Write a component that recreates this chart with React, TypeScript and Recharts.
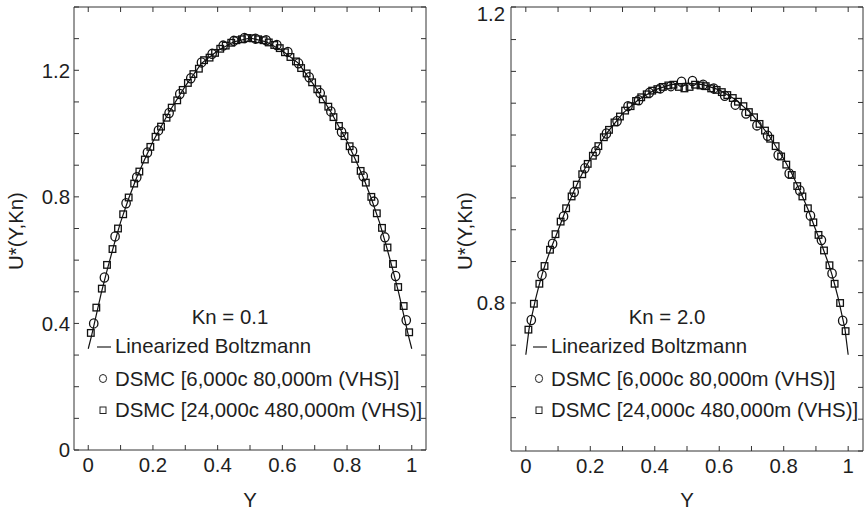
import React from 'react';
import { ScatterChart, Scatter, XAxis, YAxis } from 'recharts';

const FONT = '"Liberation Sans", Arial, Helvetica, sans-serif';
const INK = '#1e1e1e';

// ---------- data ----------
const LINE_Y = [0, 0.01, 0.02, 0.03, 0.04, 0.05, 0.06, 0.08, 0.1, 0.125, 0.15, 0.175, 0.2, 0.25, 0.3, 0.35, 0.4, 0.45, 0.5,
  0.55, 0.6, 0.65, 0.7, 0.75, 0.8, 0.825, 0.85, 0.875, 0.9, 0.92, 0.94, 0.95, 0.96, 0.97, 0.98, 0.99, 1];

const LINE_KN01 = [0.32, 0.36, 0.405, 0.45, 0.495, 0.535, 0.575, 0.65, 0.72, 0.795, 0.862, 0.92, 0.975, 1.068, 1.15, 1.222, 1.262, 1.29, 1.302,
  1.29, 1.262, 1.222, 1.15, 1.068, 0.975, 0.92, 0.862, 0.795, 0.72, 0.65, 0.575, 0.535, 0.495, 0.45, 0.405, 0.36, 0.32];

const LINE_KN20 = [0.73, 0.765, 0.785, 0.805, 0.822, 0.838, 0.852, 0.876, 0.898, 0.927, 0.952, 0.975, 0.995, 1.029, 1.056, 1.075, 1.088, 1.095, 1.097,
  1.095, 1.088, 1.075, 1.056, 1.029, 0.995, 0.975, 0.952, 0.927, 0.898, 0.876, 0.852, 0.838, 0.822, 0.805, 0.785, 0.765, 0.73];

const CIRCLE_Y = [0.017, 0.05, 0.083, 0.117, 0.15, 0.183, 0.217, 0.25, 0.283, 0.317, 0.35, 0.383, 0.417, 0.45, 0.483,
  0.517, 0.55, 0.583, 0.617, 0.65, 0.683, 0.717, 0.75, 0.783, 0.817, 0.85, 0.883, 0.917, 0.95, 0.983];

const CIRCLE_KN01 = [0.40, 0.545, 0.675, 0.78, 0.862, 0.94, 1.01, 1.065, 1.125, 1.175, 1.225, 1.252, 1.278, 1.293, 1.302,
  1.300, 1.295, 1.280, 1.258, 1.222, 1.178, 1.128, 1.07, 1.005, 0.945, 0.865, 0.785, 0.672, 0.55, 0.41];

const CIRCLE_KN20 = [0.777, 0.838, 0.880, 0.917, 0.950, 0.982, 1.005, 1.029, 1.046, 1.066, 1.074, 1.084, 1.090, 1.093, 1.099,
  1.100, 1.095, 1.090, 1.080, 1.068, 1.056, 1.040, 1.026, 1.000, 0.975, 0.952, 0.918, 0.885, 0.840, 0.776];

const SQUARE_Y = [0.008, 0.025, 0.042, 0.058, 0.075, 0.092, 0.108, 0.125, 0.142, 0.158, 0.175, 0.192, 0.208, 0.225, 0.242,
  0.258, 0.275, 0.292, 0.308, 0.325, 0.342, 0.358, 0.375, 0.392, 0.408, 0.425, 0.442, 0.458, 0.475, 0.492,
  0.508, 0.525, 0.542, 0.558, 0.575, 0.592, 0.608, 0.625, 0.642, 0.658, 0.675, 0.692, 0.708, 0.725, 0.742,
  0.758, 0.775, 0.792, 0.808, 0.825, 0.842, 0.858, 0.875, 0.892, 0.908, 0.925, 0.942, 0.958, 0.975, 0.992];

const SQUARE_KN01 = [0.37, 0.45, 0.51, 0.585, 0.635, 0.70, 0.745, 0.798, 0.842, 0.88, 0.918, 0.958, 0.99, 1.022, 1.05,
  1.082, 1.105, 1.138, 1.16, 1.188, 1.205, 1.232, 1.24, 1.255, 1.268, 1.278, 1.287, 1.295, 1.298, 1.302,
  1.301, 1.298, 1.295, 1.288, 1.280, 1.27, 1.257, 1.242, 1.228, 1.207, 1.19, 1.162, 1.14, 1.108, 1.085,
  1.052, 1.024, 0.992, 0.96, 0.92, 0.882, 0.845, 0.80, 0.748, 0.702, 0.64, 0.588, 0.515, 0.455, 0.372];

const SQUARE_KN20 = [0.764, 0.799, 0.826, 0.850, 0.872, 0.893, 0.910, 0.928, 0.944, 0.960, 0.974, 0.988, 0.999, 1.012, 1.024,
  1.034, 1.044, 1.052, 1.060, 1.066, 1.073, 1.078, 1.082, 1.087, 1.089, 1.092, 1.094, 1.095, 1.092, 1.090,
  1.092, 1.095, 1.094, 1.093, 1.090, 1.088, 1.085, 1.081, 1.077, 1.072, 1.066, 1.058, 1.051, 1.042, 1.033,
  1.022, 1.012, 0.998, 0.987, 0.973, 0.958, 0.944, 0.928, 0.909, 0.892, 0.871, 0.851, 0.826, 0.800, 0.762];

const X_TICKS = [0, 0.1, 0.2, 0.3, 0.4, 0.5, 0.6, 0.7, 0.8, 0.9, 1];
const X_LABELS = [0, 0.2, 0.4, 0.6, 0.8, 1];

const Y_TICKS_KN01 = [0, 0.1, 0.2, 0.3, 0.4, 0.5, 0.6, 0.7, 0.8, 0.9, 1.0, 1.1, 1.2, 1.3, 1.4];
const Y_LABELS_KN01 = [0, 0.4, 0.8, 1.2];

const Y_TICKS_KN20_LEFT = [0.645, 0.687, 0.743, 0.8, 0.856, 0.899, 0.942, 0.985, 1.027, 1.07, 1.113, 1.156, 1.2];
const Y_TICKS_KN20_RIGHT = [0.6, 0.643, 0.686, 0.729, 0.771, 0.814, 0.857, 0.9, 0.943, 0.986, 1.029, 1.071, 1.114, 1.157, 1.2];
const Y_LABELS_KN20 = [0.8, 1.2];

const KN_TITLES = ['Kn = 0.1', 'Kn = 2.0'];
const LEGEND_NAMES = ['Linearized Boltzmann', 'DSMC [6,000c 80,000m (VHS)]', 'DSMC [24,000c 480,000m (VHS)]'];
const X_TITLE = 'Y';
const Y_TITLE = 'U*(Y,Kn)';

// ---------- helpers ----------
const FS = 20.4;
const fmt = (v: number) => (Math.abs(v) < 1e-9 ? '0' : Math.abs(v - 1) < 1e-9 ? '1' : v.toFixed(1));
const has = (arr: number[], v: number) => arr.some((a) => Math.abs(a - v) < 1e-6);

const Circ = (p: any) => (
  <ellipse cx={p.cx} cy={p.cy} rx={4.2} ry={4.6} fill="none" stroke="#111" strokeWidth={1.3} />
);
const Sq = (p: any) => (
  <rect x={p.cx - 3.3} y={p.cy - 3.3} width={6.6} height={6.6} fill="none" stroke="#111" strokeWidth={1.3} />
);
const Nothing = () => <g />;

const makeYTick = (labels: number[]) => (p: any) => {
  const v = p.payload.value;
  if (!has(labels, v)) return <g />;
  const y = Math.max(p.y, 13.5);
  return (
    <text x={p.x} y={y} dy="0.36em" textAnchor="end" fontSize={FS} fontFamily={FONT} fill={INK}>
      {fmt(v)}
    </text>
  );
};

const axisStroke = { stroke: '#333', strokeWidth: 1 };

type Cfg = {
  left: number;
  margin: { top: number; right: number; bottom: number; left: number };
  xDomain: [number, number];
  yDomain: [number, number];
  yTicksL: number[];
  yTicksR: number[];
  yLabels: number[];
  yTickMargin: number;
  line: number[];
  circles: number[];
  squares: number[];
  title: string;
  titleX: number;
  legX: number;
  yTitleX: number;
  xTitleX: number;
};

const Panel = ({ cfg }: { cfg: Cfg }) => {
  const lineData = LINE_Y.map((x, i) => ({ x, y: cfg.line[i] }));
  const circleData = CIRCLE_Y.map((x, i) => ({ x, y: cfg.circles[i] }));
  const squareData = SQUARE_Y.map((x, i) => ({ x, y: cfg.squares[i] }));
  const L = cfg.legX;
  const textProps = { fontSize: FS, fontFamily: FONT, fill: INK };
  return (
    <div style={{ position: 'absolute', left: cfg.left, top: 0, width: 432, height: 513 }}>
      <ScatterChart width={432} height={513} margin={cfg.margin}>
        <XAxis
          xAxisId="b" type="number" dataKey="x" orientation="bottom" domain={cfg.xDomain} allowDataOverflow
          ticks={X_TICKS} interval={0} height={1} tickSize={-5} tickMargin={13}
          tickFormatter={(v: number) => (has(X_LABELS, v) ? fmt(v) : '')}
          tick={{ fontSize: FS, fontFamily: FONT, fill: INK }}
          axisLine={axisStroke} tickLine={axisStroke}
        />
        <XAxis
          xAxisId="t" type="number" dataKey="x" orientation="top" domain={cfg.xDomain} allowDataOverflow
          ticks={X_TICKS} interval={0} height={1} tickSize={-5} tickFormatter={() => ''}
          axisLine={axisStroke} tickLine={axisStroke}
        />
        <YAxis
          yAxisId="l" type="number" dataKey="y" orientation="left" domain={cfg.yDomain} allowDataOverflow
          ticks={cfg.yTicksL} interval={0} width={1} tickSize={-5} tickMargin={cfg.yTickMargin}
          tick={makeYTick(cfg.yLabels)} axisLine={axisStroke} tickLine={axisStroke}
        />
        <YAxis
          yAxisId="r" type="number" dataKey="y" orientation="right" domain={cfg.yDomain} allowDataOverflow
          ticks={cfg.yTicksR} interval={0} width={1} tickSize={-5} tickFormatter={() => ''}
          axisLine={axisStroke} tickLine={axisStroke}
        />
        <Scatter
          name={LEGEND_NAMES[0]} xAxisId="t" yAxisId="r" data={lineData}
          line={{ stroke: '#111', strokeWidth: 1.2 }} shape={Nothing} isAnimationActive={false}
        />
        <Scatter name={LEGEND_NAMES[1]} xAxisId="b" yAxisId="l" data={circleData} shape={Circ} isAnimationActive={false} />
        <Scatter name={LEGEND_NAMES[2]} xAxisId="b" yAxisId="l" data={squareData} shape={Sq} isAnimationActive={false} />
      </ScatterChart>
      <svg width={432} height={513} style={{ position: 'absolute', left: 0, top: 0, pointerEvents: 'none' }}>
        <text x={cfg.titleX} y={323.5} textAnchor="middle" {...textProps}>{cfg.title}</text>
        <line x1={L - 6} x2={L + 8} y1={347} y2={347} stroke="#222" strokeWidth={1.2} />
        <text x={L + 12} y={352.5} {...textProps}>{LEGEND_NAMES[0]}</text>
        <ellipse cx={L} cy={378.5} rx={3.6} ry={4} fill="none" stroke="#222" strokeWidth={1} />
        <text x={L + 12} y={385.5} {...textProps}>{LEGEND_NAMES[1]}</text>
        <rect x={L - 3} y={407} width={6} height={6.5} fill="none" stroke="#222" strokeWidth={1} />
        <text x={L + 12} y={417} {...textProps}>{LEGEND_NAMES[2]}</text>
        <text x={cfg.xTitleX} y={506.5} textAnchor="middle" {...textProps}>{X_TITLE}</text>
        <text
          x={cfg.yTitleX} y={231} textAnchor="middle" dominantBaseline="central"
          transform={`rotate(-90 ${cfg.yTitleX} 231)`} {...textProps}
        >
          {Y_TITLE}
        </text>
      </svg>
    </div>
  );
};

const LEFT: Cfg = {
  left: 0,
  margin: { top: 6, right: 5, bottom: 62, left: 73 },
  xDomain: [-0.044, 1.044],
  yDomain: [0, 1.4],
  yTicksL: Y_TICKS_KN01,
  yTicksR: Y_TICKS_KN01,
  yLabels: Y_LABELS_KN01,
  yTickMargin: 9,
  line: LINE_KN01,
  circles: CIRCLE_KN01,
  squares: SQUARE_KN01,
  title: KN_TITLES[0],
  titleX: 230,
  legX: 103,
  yTitleX: 15.5,
  xTitleX: 250,
};

const RIGHT: Cfg = {
  left: 432,
  margin: { top: 6, right: 0, bottom: 61, left: 78 },
  xDomain: [-0.046, 1.046],
  yDomain: [0.6, 1.2],
  yTicksL: Y_TICKS_KN20_LEFT,
  yTicksR: Y_TICKS_KN20_RIGHT,
  yLabels: Y_LABELS_KN20,
  yTickMargin: 11,
  line: LINE_KN20,
  circles: CIRCLE_KN20,
  squares: SQUARE_KN20,
  title: KN_TITLES[1],
  titleX: 235,
  legX: 107,
  yTitleX: 32.5,
  xTitleX: 255,
};

export default function App() {
  return (
    <div style={{ position: 'absolute', left: 0, top: 0, width: 864, height: 513, background: '#fff', overflow: 'hidden' }}>
      <Panel cfg={LEFT} />
      <Panel cfg={RIGHT} />
    </div>
  );
}
